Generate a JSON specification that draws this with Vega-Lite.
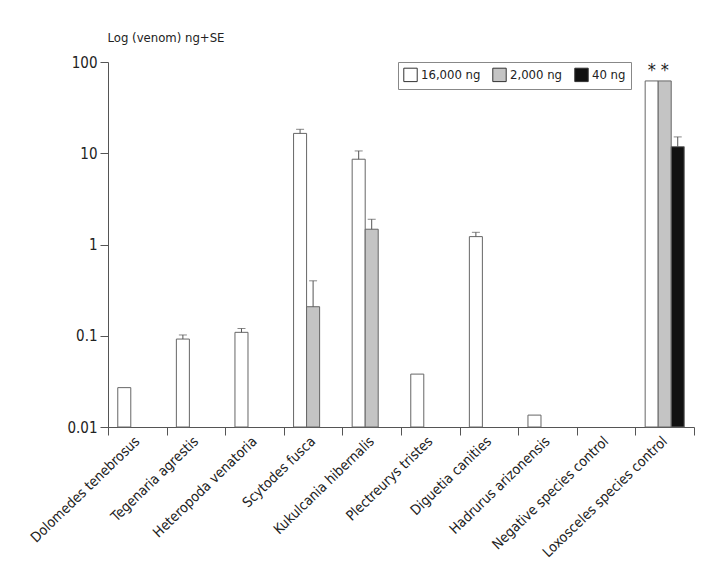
{
  "$schema": "https://vega.github.io/schema/vega-lite/v6.json",
  "autosize": "none",
  "width": 586,
  "height": 365,
  "padding": {"left": 108, "top": 62, "right": 31, "bottom": 148},
  "background": "white",
  "config": {
    "font": "DejaVu Sans Condensed",
    "view": {"stroke": null}
  },
  "data": {
    "values": [
      {"species": "Dolomedes tenebrosus", "dose": "16,000 ng", "value": 0.027},
      {"species": "Tegenaria agrestis", "dose": "16,000 ng", "value": 0.092, "upper": 0.102},
      {"species": "Heteropoda venatoria", "dose": "16,000 ng", "value": 0.109, "upper": 0.12},
      {"species": "Scytodes fusca", "dose": "16,000 ng", "value": 16.5, "upper": 18.3},
      {"species": "Scytodes fusca", "dose": "2,000 ng", "value": 0.208, "upper": 0.4},
      {"species": "Kukulcania hibernalis", "dose": "16,000 ng", "value": 8.6, "upper": 10.6},
      {"species": "Kukulcania hibernalis", "dose": "2,000 ng", "value": 1.47, "upper": 1.89},
      {"species": "Plectreurys tristes", "dose": "16,000 ng", "value": 0.038},
      {"species": "Diguetia canities", "dose": "16,000 ng", "value": 1.22, "upper": 1.36},
      {"species": "Hadrurus arizonensis", "dose": "16,000 ng", "value": 0.0135},
      {"species": "Loxosceles species control", "dose": "16,000 ng", "value": 62, "sig": "*"},
      {"species": "Loxosceles species control", "dose": "2,000 ng", "value": 62, "sig": "*"},
      {"species": "Loxosceles species control", "dose": "40 ng", "value": 11.8, "upper": 15.1}
    ]
  },
  "encoding": {
    "x": {
      "field": "species",
      "type": "nominal",
      "sort": null,
      "scale": {
        "domain": ["Dolomedes tenebrosus", "Tegenaria agrestis", "Heteropoda venatoria", "Scytodes fusca", "Kukulcania hibernalis", "Plectreurys tristes", "Diguetia canities", "Hadrurus arizonensis", "Negative species control", "Loxosceles species control"],
        "paddingInner": 0,
        "paddingOuter": 0
      },
      "axis": {
        "title": null,
        "labelAngle": -44,
        "labelAlign": "right",
        "labelBaseline": "middle",
        "labelFontSize": 14,
        "labelColor": "#222",
        "labelPadding": 4,
        "tickBand": "extent",
        "tickSize": 8,
        "tickColor": "#555",
        "domainColor": "#555"
      }
    },
    "xOffset": {
      "field": "dose",
      "type": "nominal",
      "scale": {"domain": ["16,000 ng", "2,000 ng", "40 ng"], "paddingInner": 0, "paddingOuter": 0.75}
    }
  },
  "layer": [
    {
      "mark": {"type": "bar", "stroke": "#666", "strokeWidth": 1},
      "encoding": {
        "y": {
          "field": "value",
          "type": "quantitative",
          "scale": {"type": "log", "domain": [0.01, 100]},
          "axis": {
            "values": [0.01, 0.1, 1, 10, 100],
            "format": "~g",
            "grid": false,
            "tickSize": 8,
            "tickColor": "#555",
            "domainColor": "#555",
            "labelFontSize": 15,
            "labelColor": "#222",
            "labelPadding": 3,
            "title": "Log (venom) ng+SE",
            "titleAngle": 0,
            "titleAlign": "left",
            "titleBaseline": "middle",
            "titleX": -1,
            "titleY": -25,
            "titleFontSize": 13,
            "titleFontWeight": "normal",
            "titleColor": "#222"
          }
        },
        "y2": {"datum": 0.01},
        "fill": {
          "field": "dose",
          "type": "nominal",
          "scale": {"domain": ["16,000 ng", "2,000 ng", "40 ng"], "range": ["#ffffff", "#c4c4c4", "#111111"]},
          "legend": {
            "title": null,
            "orient": "none",
            "legendX": 290,
            "legendY": 0,
            "direction": "horizontal",
            "strokeColor": "#888",
            "padding": 5,
            "symbolType": "square",
            "symbolSize": 180,
            "symbolStrokeColor": "#333",
            "symbolStrokeWidth": 1,
            "labelFontSize": 13,
            "labelColor": "#222",
            "columnPadding": 9,
            "labelOffset": 3
          }
        }
      }
    },
    {
      "transform": [{"filter": "isValid(datum.upper)"}],
      "mark": {"type": "rule", "stroke": "#555", "strokeWidth": 1},
      "encoding": {
        "y": {"field": "value", "type": "quantitative"},
        "y2": {"field": "upper"}
      }
    },
    {
      "transform": [{"filter": "isValid(datum.upper)"}],
      "mark": {"type": "tick", "color": "#555", "size": 8, "thickness": 1, "orient": "horizontal"},
      "encoding": {
        "y": {"field": "upper", "type": "quantitative"}
      }
    },
    {
      "transform": [{"filter": "isValid(datum.sig)"}],
      "mark": {"type": "text", "dy": -10, "fontSize": 18, "color": "#222", "baseline": "middle"},
      "encoding": {
        "y": {"field": "value", "type": "quantitative"},
        "text": {"field": "sig"}
      }
    }
  ]
}
